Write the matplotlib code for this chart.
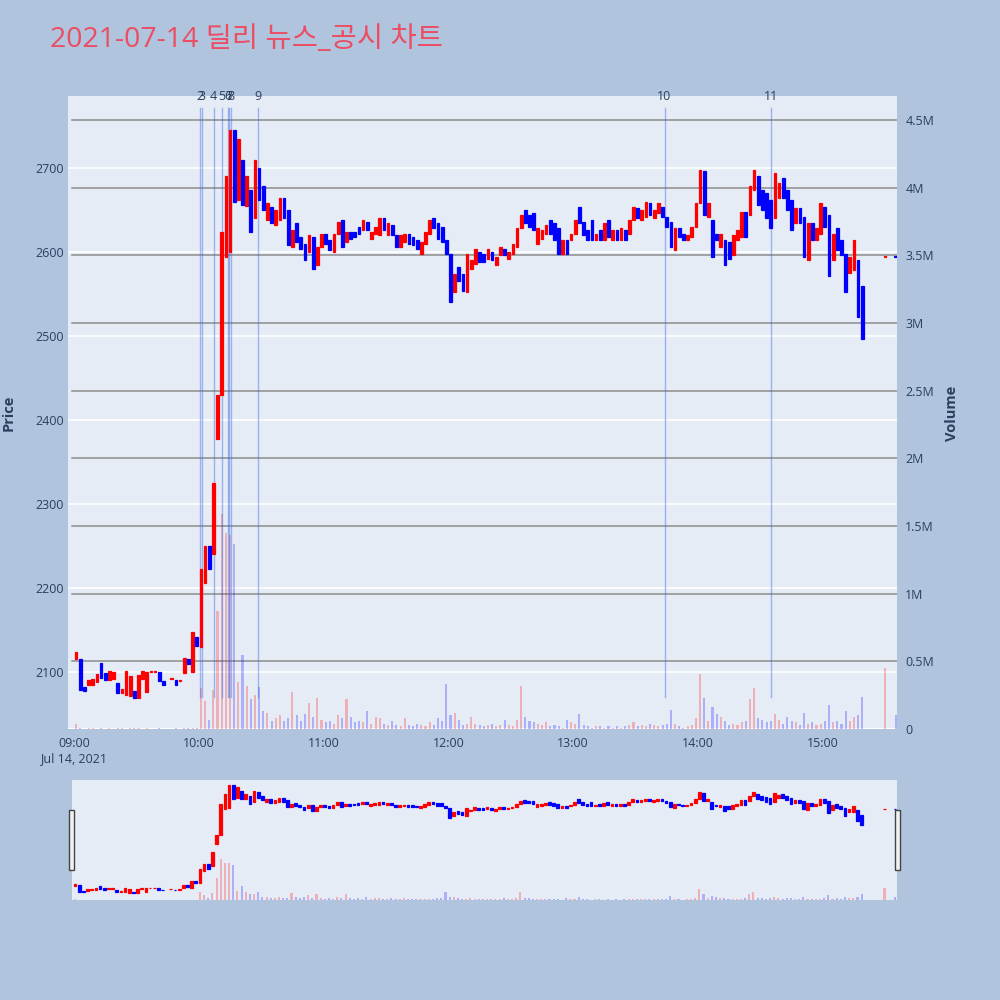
import matplotlib
matplotlib.use('Agg')
import matplotlib.pyplot as plt
import matplotlib.dates as mdates
from matplotlib.patches import Rectangle
import numpy as np
import pandas as pd

plt.rcParams['font.family'] = ['Open Sans', 'Noto Sans CJK KR', 'DejaVu Sans']

TITLE = '2021-07-14 딜리 뉴스_공시 차트'

# 2-minute candles from 09:00, prices in KRW
session_start = '2021-07-14 09:00'
opens = [
    2115, 2116, 2082, 2084, 2085, 2088, 2111, 2099, 2091, 2092,
    2087, 2075, 2073, 2071, 2077, 2069, 2092, 2076, 2100, 2100,
    2100, 2089, np.nan, 2092, 2090, 2089, 2099, 2116, 2100, 2142,
    2130, 2206, 2250, 2240, 2377, 2430, 2594, 2600, 2745, 2662,
    2710, 2655, 2674, 2640, 2700, 2678, 2638, 2654, 2632, 2638,
    2664, 2650, 2606, 2634, 2618, 2610, 2600, 2618, 2584, 2606,
    2622, 2614, 2600, 2622, 2638, 2612, 2624, 2624, 2630, 2626,
    2636, 2616, 2622, 2620, 2640, 2620, 2632, 2620, 2606, 2612,
    2622, 2618, 2614, 2598, 2610, 2622, 2640, 2634, 2630, 2614,
    2598, 2552, 2582, 2574, 2552, 2580, 2586, 2600, 2598, 2592,
    2600, 2584, 2596, 2604, 2592, 2598, 2606, 2628, 2650, 2644,
    2646, 2610, 2616, 2622, 2638, 2634, 2628, 2598, 2614, 2614,
    2622, 2654, 2636, 2626, 2638, 2614, 2626, 2614, 2638, 2614,
    2626, 2614, 2626, 2622, 2638, 2652, 2638, 2642, 2658, 2640,
    2646, 2654, 2642, 2636, 2602, 2628, 2622, 2614, 2618, 2630,
    2658, 2696, 2642, 2638, 2622, 2606, 2614, 2612, 2596, 2614,
    2618, 2648, 2644, 2674, 2690, 2674, 2670, 2662, 2640, 2664,
    2688, 2674, 2662, 2634, 2652, 2642, 2590, 2634, 2614, 2622,
    2654, 2644, 2590, 2628, 2614, 2598, 2575, 2578, 2590, 2560,
]
closes = [
    2124, 2078, 2077, 2091, 2092, 2097, 2093, 2090, 2101, 2100,
    2075, 2080, 2101, 2095, 2069, 2096, 2101, 2100, 2101, 2101,
    2089, 2085, np.nan, 2093, 2085, 2091, 2117, 2109, 2147, 2131,
    2222, 2250, 2222, 2325, 2430, 2624, 2690, 2745, 2660, 2734,
    2656, 2690, 2624, 2710, 2662, 2650, 2658, 2634, 2650, 2664,
    2640, 2608, 2626, 2612, 2604, 2590, 2620, 2580, 2606, 2622,
    2610, 2602, 2622, 2636, 2606, 2624, 2616, 2618, 2622, 2638,
    2626, 2624, 2630, 2640, 2626, 2634, 2620, 2606, 2620, 2622,
    2610, 2608, 2604, 2612, 2624, 2638, 2628, 2616, 2612, 2598,
    2540, 2574, 2566, 2554, 2598, 2590, 2604, 2588, 2588, 2604,
    2590, 2594, 2606, 2596, 2600, 2610, 2628, 2644, 2634, 2630,
    2626, 2628, 2626, 2632, 2622, 2614, 2598, 2614, 2598, 2622,
    2638, 2634, 2620, 2614, 2614, 2622, 2614, 2634, 2618, 2626,
    2614, 2628, 2614, 2638, 2654, 2640, 2650, 2660, 2644, 2650,
    2658, 2642, 2630, 2606, 2628, 2618, 2614, 2620, 2630, 2658,
    2698, 2644, 2658, 2594, 2614, 2622, 2584, 2592, 2620, 2626,
    2648, 2618, 2678, 2698, 2656, 2650, 2640, 2628, 2694, 2682,
    2664, 2650, 2626, 2652, 2634, 2594, 2634, 2614, 2628, 2658,
    2630, 2572, 2622, 2602, 2596, 2552, 2594, 2614, 2522, 2496,
]
# volume in millions of shares
volumes = [
    0.04, 0.005, 0.003, 0.01, 0.004, 0.003, 0.005, 0.002, 0.004, 0.003,
    0.006, 0.004, 0.003, 0.005, 0.004, 0.006, 0.003, 0.004, 0.002, 0.003,
    0.004, 0.003, 0.0, 0.002, 0.004, 0.003, 0.005, 0.004, 0.006, 0.01,
    0.30, 0.21, 0.07, 0.29, 0.87, 1.59, 1.45, 1.43, 1.37, 0.35,
    0.55, 0.32, 0.22, 0.25, 0.31, 0.13, 0.12, 0.06, 0.08, 0.10,
    0.06, 0.08, 0.27, 0.10, 0.06, 0.11, 0.19, 0.09, 0.23, 0.07,
    0.05, 0.06, 0.04, 0.10, 0.08, 0.22, 0.09, 0.05, 0.06, 0.05,
    0.13, 0.04, 0.09, 0.08, 0.04, 0.03, 0.06, 0.03, 0.02, 0.08,
    0.03, 0.02, 0.04, 0.03, 0.02, 0.05, 0.03, 0.08, 0.06, 0.33,
    0.10, 0.12, 0.07, 0.03, 0.04, 0.09, 0.04, 0.03, 0.02, 0.03,
    0.04, 0.02, 0.03, 0.07, 0.03, 0.02, 0.07, 0.32, 0.09, 0.06,
    0.05, 0.04, 0.03, 0.05, 0.02, 0.03, 0.02, 0.01, 0.07, 0.05,
    0.04, 0.11, 0.03, 0.02, 0.01, 0.02, 0.02, 0.01, 0.02, 0.01,
    0.02, 0.01, 0.02, 0.03, 0.05, 0.02, 0.03, 0.02, 0.04, 0.03,
    0.02, 0.03, 0.04, 0.14, 0.04, 0.02, 0.01, 0.02, 0.03, 0.08,
    0.41, 0.23, 0.06, 0.16, 0.11, 0.09, 0.06, 0.03, 0.04, 0.03,
    0.05, 0.06, 0.22, 0.30, 0.08, 0.07, 0.05, 0.06, 0.11, 0.07,
    0.04, 0.09, 0.06, 0.05, 0.03, 0.12, 0.04, 0.05, 0.03, 0.04,
    0.06, 0.18, 0.05, 0.06, 0.04, 0.13, 0.06, 0.09, 0.10, 0.24,
]
# closing auction / after-hours prints
after_times = ['2021-07-14 15:30', '2021-07-14 15:35']
after_opens = [2594, 2595]
after_closes = [2595, 2594]
after_volumes = [0.45, 0.10]

# news / disclosure markers
news_times = ['2021-07-14 10:00:20', '2021-07-14 10:01:20', '2021-07-14 10:07:05',
              '2021-07-14 10:11:10', '2021-07-14 10:13:50', '2021-07-14 10:14:30',
              '2021-07-14 10:15:40', '2021-07-14 10:28:30', '2021-07-14 13:43:55',
              '2021-07-14 14:35:20']
news_labels = ['2', '3', '4', '5', '6', '7', '8', '9', '10', '11']
news_low, news_high = 2070, 2771

price_ticks = [2100, 2200, 2300, 2400, 2500, 2600, 2700]
vol_ticks = [0, 0.5, 1, 1.5, 2, 2.5, 3, 3.5, 4, 4.5]
vol_tick_labels = ['0', '0.5M', '1M', '1.5M', '2M', '2.5M', '3M', '3.5M', '4M', '4.5M']

PAPER = '#B0C4DE'
PLOT_BG = '#E5ECF6'
TEXT = '#2a3f5f'
INC = '#FF0000'
DEC = '#0000FF'
INC_VOL = (1, 0, 0, 0.25)
DEC_VOL = (0, 0, 1, 0.25)

# build frame
times = pd.date_range(session_start, periods=len(opens), freq='2min') + pd.Timedelta(minutes=1)
df = pd.DataFrame({'time': times, 'open': opens, 'close': closes, 'volume': volumes})
df_after = pd.DataFrame({'time': pd.to_datetime(after_times), 'open': after_opens,
                         'close': after_closes, 'volume': after_volumes})
df = pd.concat([df, df_after], ignore_index=True).dropna()
df['x'] = mdates.date2num(df['time'].dt.to_pydatetime())
df['up'] = df['close'] >= df['open']

minute = 1 / 1440
base = mdates.date2num(pd.Timestamp(session_start).to_pydatetime())


def draw_candles(ax, data, width, lw):
    for up, color in [(True, INC), (False, DEC)]:
        d = data[data['up'] == up]
        bottom = np.minimum(d['open'], d['close'])
        height = np.maximum(np.abs(d['close'] - d['open']), 1.0)
        ax.bar(d['x'], height, bottom=bottom, width=width, color=color,
               edgecolor=color, linewidth=lw, zorder=3)


def draw_volume(ax, data, width):
    colors = [INC_VOL if u else DEC_VOL for u in data['up']]
    ax.bar(data['x'], data['volume'], width=width, color=colors, linewidth=0, zorder=2)


fig = plt.figure(figsize=(10, 10), dpi=100, facecolor=PAPER)

# main panel
ax = fig.add_axes([0.068, 0.271, 0.829, 0.633], facecolor=PLOT_BG)
ax.set_xlim(base - 2.9 * minute, base + 395.7 * minute)
ax.set_ylim(2032.1, 2785.7)
ax.set_yticks(price_ticks)
ax.grid(axis='y', color='white', linewidth=1.2)
ax.set_axisbelow(True)

axv = ax.twinx()
axv.set_ylim(0, 4.677)
axv.set_yticks(vol_ticks)
axv.set_yticklabels(vol_tick_labels)
for v in vol_ticks[1:]:
    axv.plot([0.005, 1], [v, v], transform=axv.get_yaxis_transform(),
             color='#8c8c8c', linewidth=1.1, zorder=1)
axv.axhline(0, color='white', linewidth=1.5, zorder=1)
draw_volume(axv, df, 1.0 * minute)

axc = ax.twinx()
axc.set_ylim(ax.get_ylim())
axc.set_yticks([])
for t, lab in zip(news_times, news_labels):
    xt = mdates.date2num(pd.Timestamp(t).to_pydatetime())
    axc.plot([xt, xt], [news_low, news_high], color='royalblue', alpha=0.45,
             linewidth=1, zorder=2)
    axc.text(xt, 1.0, lab, transform=axc.get_xaxis_transform(), ha='center',
             va='center', fontsize=9, color=TEXT)
draw_candles(axc, df, 1.3 * minute, 0.9)


def fmt_time(x, pos):
    label = mdates.num2date(x).strftime('%H:%M')
    if pos == 0:
        label += '\nJul 14, 2021'
    return label


ax.xaxis.set_major_locator(mdates.HourLocator())
ax.xaxis.set_major_formatter(plt.FuncFormatter(fmt_time))

for a in (ax, axv, axc):
    for s in a.spines.values():
        s.set_visible(False)
    a.tick_params(length=0, colors=TEXT, labelsize=9)
ax.tick_params(axis='x', pad=6)
ax.tick_params(axis='y', pad=3)
axv.tick_params(axis='y', pad=6)

fig.text(0.009, 0.587, 'Price', rotation=90, ha='center', va='center',
         fontsize=10.5, fontweight='bold', color=TEXT)
fig.text(0.952, 0.587, 'Volume', rotation=90, ha='center', va='center',
         fontsize=10.5, fontweight='bold', color=TEXT)
fig.text(0.05, 0.96, TITLE, ha='left', va='center', fontsize=20.5, color='#EB4D63')

# range slider
sax = fig.add_axes([0.072, 0.100, 0.825, 0.120], facecolor=PLOT_BG)
sax.set_xlim(base - 0.5 * minute, base + 396 * minute)
sax.set_ylim(0, 4.677)
draw_volume(sax, df, 1.0 * minute)
sax_c = sax.twinx()
sax_c.set_ylim(2025, 2776)
draw_candles(sax_c, df, 1.3 * minute, 0.9)
for a in (sax, sax_c):
    a.set_xticks([])
    a.set_yticks([])
    for s in a.spines.values():
        s.set_visible(False)

for hx in (0.069, 0.895):
    fig.patches.append(Rectangle((hx, 0.130), 0.005, 0.060, transform=fig.transFigure,
                                 facecolor='#f2f2f2', edgecolor='#444444', linewidth=1))

fig.savefig('out.png', dpi=100, facecolor=PAPER)
